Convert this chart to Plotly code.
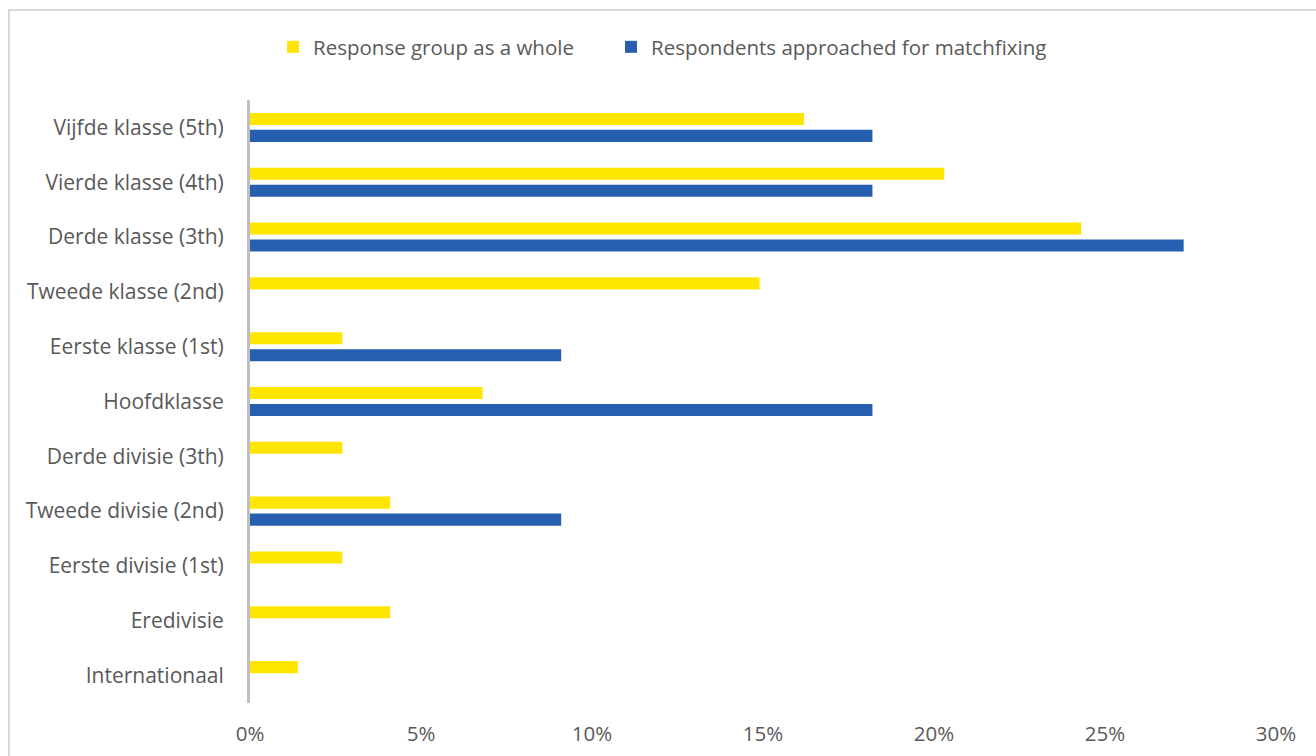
import plotly.graph_objects as go

# League levels, top to bottom as shown on the chart
levels = [
    "Vijfde klasse (5th)",
    "Vierde klasse (4th)",
    "Derde klasse (3th)",
    "Tweede klasse (2nd)",
    "Eerste klasse (1st)",
    "Hoofdklasse",
    "Derde divisie (3th)",
    "Tweede divisie (2nd)",
    "Eerste divisie (1st)",
    "Eredivisie",
    "Internationaal",
]

# Share of respondents per level (%)
whole_group = [16.2, 20.3, 24.3, 14.9, 2.7, 6.8, 2.7, 4.1, 2.7, 4.1, 1.4]
approached = [18.2, 18.2, 27.3, 0.0, 9.1, 18.2, 0.0, 9.1, 0.0, 0.0, 0.0]

x_ticks = [0, 5, 10, 15, 20, 25, 30]
x_tick_text = ["0%", "5%", "10%", "15%", "20%", "25%", "30%"]

YELLOW = "#FFE600"
BLUE = "#265EB0"
TEXT = "#595959"
FONT = "Open Sans"
FS = 21

fig = go.Figure()
fig.add_trace(go.Bar(
    name="Response group as a whole",
    y=levels, x=whole_group, orientation="h",
    marker=dict(color=YELLOW, line=dict(width=0)),
    legend="legend",
))
fig.add_trace(go.Bar(
    name="Respondents approached for matchfixing",
    y=levels, x=approached, orientation="h",
    marker=dict(color=BLUE, line=dict(width=0)),
    legend="legend2",
))

L, R, T, B = 250, 40, 100, 53
W, H = 1316, 756
pw, ph = W - L - R, H - T - B


def px_x(px):
    return (px - L) / pw


def px_y(py):
    return (H - B - py) / ph


legend_style = dict(
    orientation="h",
    xanchor="left",
    y=px_y(47), yanchor="middle",
    font=dict(family=FONT, size=FS - 0.5, color=TEXT),
    bgcolor="rgba(0,0,0,0)",
)

fig.update_layout(
    width=W, height=H,
    margin=dict(l=L, r=R, t=T, b=B, autoexpand=False),
    paper_bgcolor="white", plot_bgcolor="white",
    font=dict(family=FONT, size=FS, color=TEXT),
    barmode="group",
    bargap=0.38,
    bargroupgap=0.29,
    showlegend=True,
    legend=dict(x=px_x(273), **legend_style),
    legend2=dict(x=px_x(611), **legend_style),
    xaxis=dict(
        range=[0, 30],
        tickvals=x_ticks, ticktext=x_tick_text,
        showgrid=False, zeroline=False, showline=False,
        ticks="", ticklabelstandoff=16,
        tickfont=dict(family=FONT, size=FS - 0.5, color=TEXT),
        automargin=False,
        fixedrange=True,
    ),
    yaxis=dict(
        categoryorder="array", categoryarray=levels,
        autorange="reversed",
        showgrid=False, zeroline=False,
        showline=True, linecolor="#BFBFBF", linewidth=3,
        ticks="", ticklabelstandoff=19,
        tickfont=dict(family=FONT, size=FS, color=TEXT),
        automargin=False,
        fixedrange=True,
    ),
    shapes=[
        dict(
            type="rect", xref="paper", yref="paper",
            x0=px_x(9), x1=px_x(1340), y0=px_y(780), y1=px_y(10),
            line=dict(color="#D9D9D9", width=2),
            fillcolor="rgba(0,0,0,0)", layer="below",
        )
    ],
)

fig.write_html("out.html")
